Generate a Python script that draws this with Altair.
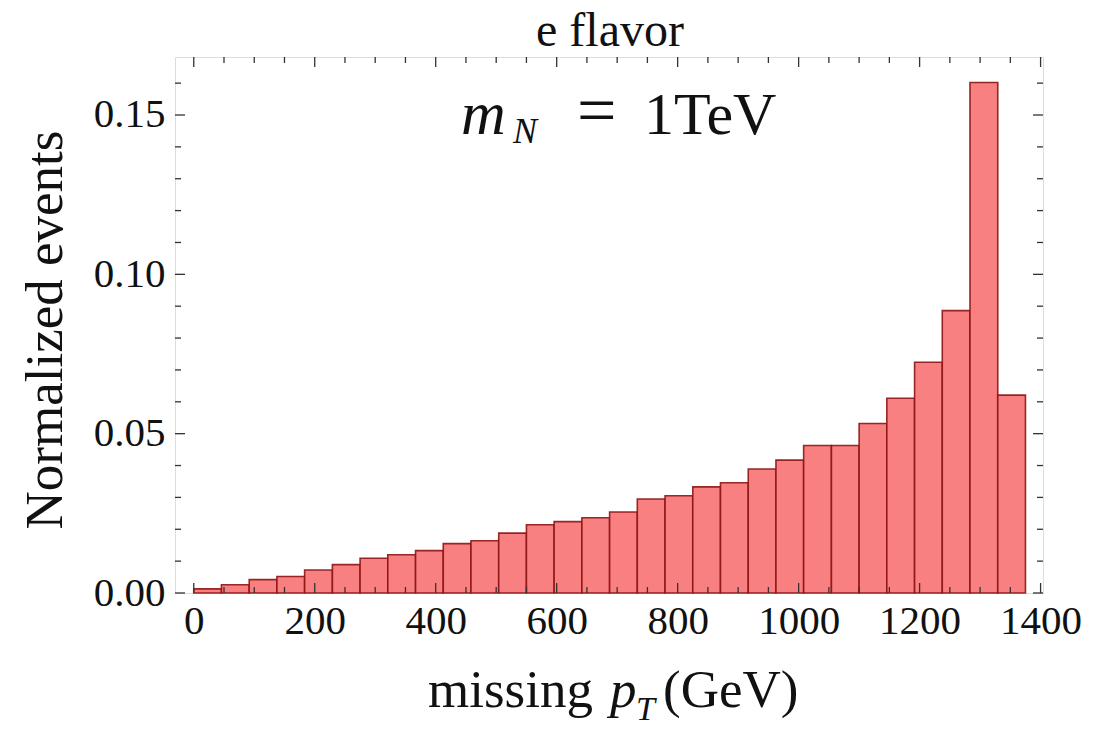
import altair as alt
import pandas as pd

# ---- data ----
bin_lo = [0, 45.8, 91.7, 137.5, 183.3, 229.2, 275, 320.8, 366.7, 412.5,
          458.3, 504.2, 550, 595.8, 641.7, 687.5, 733.3, 779.2, 825, 870.8,
          916.7, 962.5, 1008.3, 1054.2, 1100, 1145.8, 1191.7, 1237.5, 1283.3, 1329.2]
bin_hi = [45.8, 91.7, 137.5, 183.3, 229.2, 275, 320.8, 366.7, 412.5, 458.3,
          504.2, 550, 595.8, 641.7, 687.5, 733.3, 779.2, 825, 870.8, 916.7,
          962.5, 1008.3, 1054.2, 1100, 1145.8, 1191.7, 1237.5, 1283.3, 1329.2, 1375]
events = [0.0013, 0.0026, 0.0042, 0.0052, 0.0072, 0.0089, 0.0109, 0.0120, 0.0133, 0.0155,
          0.0164, 0.0188, 0.0214, 0.0224, 0.0236, 0.0254, 0.0295, 0.0305, 0.0333, 0.0346,
          0.0389, 0.0417, 0.0463, 0.0463, 0.0532, 0.0611, 0.0724, 0.0886, 0.1602, 0.0621]

x_major = [0, 200, 400, 600, 800, 1000, 1200, 1400]
x_minor = [50, 100, 150, 250, 300, 350, 450, 500, 550, 650, 700, 750,
           850, 900, 950, 1050, 1100, 1150, 1250, 1300, 1350]
y_major = [0.0, 0.05, 0.10, 0.15]
y_minor = [0.01, 0.02, 0.03, 0.04, 0.06, 0.07, 0.08, 0.09, 0.11, 0.12, 0.13, 0.14, 0.16]

W, H = 868, 536
SERIF = "Liberation Serif"
xs = alt.Scale(domain=[-31, 1404], nice=False, zero=False)
ys = alt.Scale(domain=[0, 0.1682], nice=False, zero=False)

bars_df = pd.DataFrame({"lo": bin_lo, "hi": bin_hi, "v": events})

bars = alt.Chart(bars_df).mark_rect(
    fill="#F98080", stroke="#8E1414", strokeWidth=1.6, strokeOpacity=0.9
).encode(
    x=alt.X("lo:Q", scale=xs, axis=alt.Axis(
        values=x_major, format="d", ticks=False, tickSize=0, domain=False, grid=False,
        labelFont=SERIF, labelFontSize=41, labelColor="#111", labelPadding=8,
        labelFlush=False, title=None)),
    x2="hi:Q",
    y=alt.Y("v:Q", scale=ys, axis=alt.Axis(
        values=y_major, format=".2f", ticks=False, tickSize=0, domain=False, grid=False,
        labelFont=SERIF, labelFontSize=41, labelColor="#111", labelPadding=10,
        labelFlush=False, title=None)),
    y2=alt.datum(0),
)

def xticks(vals, length):
    d = pd.DataFrame({"t": vals})
    bot = alt.Chart(d).mark_rule(color="#333", strokeWidth=1.3).encode(
        x=alt.X("t:Q", scale=xs), y=alt.value(H), y2=alt.value(H - length))
    top = alt.Chart(d).mark_rule(color="#333", strokeWidth=1.3).encode(
        x=alt.X("t:Q", scale=xs), y=alt.value(0), y2=alt.value(length))
    return [bot, top]

def yticks(vals, length):
    d = pd.DataFrame({"t": vals})
    left = alt.Chart(d).mark_rule(color="#333", strokeWidth=1.3).encode(
        y=alt.Y("t:Q", scale=ys), x=alt.value(0), x2=alt.value(length))
    right = alt.Chart(d).mark_rule(color="#333", strokeWidth=1.3).encode(
        y=alt.Y("t:Q", scale=ys), x=alt.value(W), x2=alt.value(W - length))
    return [left, right]

one = pd.DataFrame({"k": [0]})

def label(text, x, y, size, style="normal", align="left", angle=0):
    kw = dict(text=text, font=SERIF, fontSize=size, fontStyle=style,
              align=align, baseline="alphabetic", color="#111")
    if angle:
        kw["angle"] = angle
    return alt.Chart(one).mark_text(**kw).encode(x=alt.value(x), y=alt.value(y))

texts = [
    label("e flavor", 435, -11, 48, align="center"),
    label("Normalized events", -113, 273, 53, align="center", angle=270),
    label("missing", 253, 650, 53),
    label("p", 435, 650, 53, style="italic"),
    label("T", 461, 663, 34, style="italic"),
    label("(GeV)", 488, 650, 53),
    label("m", 286, 77, 62, style="italic"),
    label("N", 338, 86, 36, style="italic"),
    label("=", 402, 77, 70),
    label("1TeV", 469, 77, 60),
]

layers = [bars] + xticks(x_major, 10) + xticks(x_minor, 6) + yticks(y_major, 10) + yticks(y_minor, 6) + texts

chart = alt.layer(*layers).properties(
    width=W, height=H,
    autosize=alt.AutoSizeParams(type="none"),
    padding={"left": 175, "top": 57, "right": 1112 - 175 - W, "bottom": 730 - 57 - H},
).configure_view(
    stroke="#555555", strokeWidth=1.4
).configure(background="white")

chart.save("out.html", embed_options={"renderer": "svg", "actions": False})
